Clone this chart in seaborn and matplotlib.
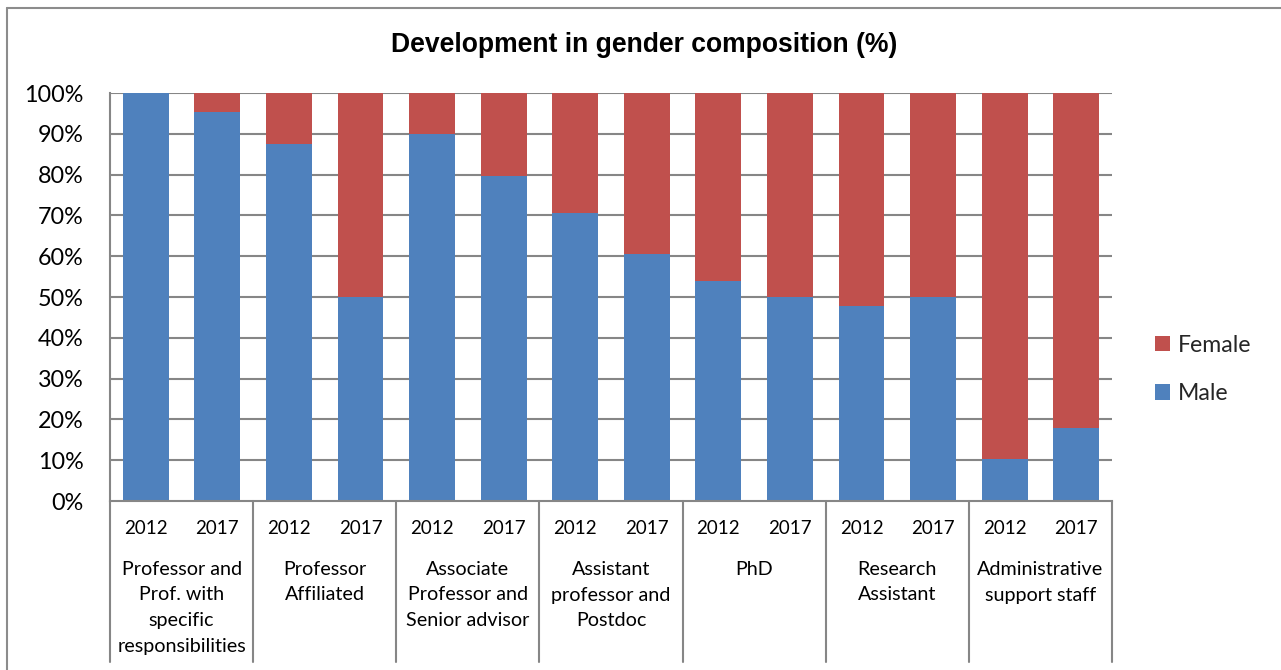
import matplotlib
matplotlib.use("Agg")
import matplotlib.pyplot as plt
from matplotlib.patches import Patch
from matplotlib.lines import Line2D
import seaborn as sns
import pandas as pd

# ---- data ----
groups = [
    ["Professor and", "Prof. with", "specific", "responsibilities"],
    ["Professor", "Affiliated"],
    ["Associate", "Professor and", "Senior advisor"],
    ["Assistant", "professor and", "Postdoc"],
    ["PhD"],
    ["Research", "Assistant"],
    ["Administrative", "support staff"],
]
years = ["2012", "2017"]
male = [100.0, 95.3, 87.6, 50.0, 90.0, 79.7, 70.7, 60.6, 53.8, 50.0, 47.9, 50.0, 10.3, 17.8]
yticks = [0, 10, 20, 30, 40, 50, 60, 70, 80, 90, 100]
title = "Development in gender composition (%)"

BLUE = "#4F81BD"
RED = "#C0504D"
GRID = "#868686"

slots = [f"{gi}-{y}" for gi in range(len(groups)) for y in years]
df = pd.DataFrame({
    "slot": slots,
    "year": [y for _ in groups for y in years],
    "Male": male,
})
df["Female"] = 100 - df["Male"]
df["Total"] = df["Male"] + df["Female"]

sns.set_theme(style="white")
plt.rcParams["font.family"] = ["Lato", "DejaVu Sans"]

W, H = 1281, 670
fig = plt.figure(figsize=(W / 100, H / 100), dpi=100)
ax = fig.add_axes([110 / W, (H - 501) / H, (1112 - 110) / W, (501 - 93) / H])

sns.barplot(data=df, x="slot", y="Total", order=slots, color=RED, width=0.64,
            saturation=1, linewidth=0, ax=ax, zorder=3)
sns.barplot(data=df, x="slot", y="Male", order=slots, color=BLUE, width=0.64,
            saturation=1, linewidth=0, ax=ax, zorder=3)

ax.set_xlim(-0.5, len(slots) - 0.5)
ax.set_ylim(0, 100)
ax.set_yticks(yticks)
ax.set_yticklabels([f"{t}%" for t in yticks], fontsize=16.8, color="black")
ax.set_xticks([])
ax.set_xlabel("")
ax.set_ylabel("")
ax.tick_params(axis="y", length=0, pad=19)

for t in yticks[1:]:
    ax.axhline(t, color=GRID, lw=1.5, zorder=1)

for s in ["top", "right"]:
    ax.spines[s].set_visible(False)
for s in ["left", "bottom"]:
    ax.spines[s].set_color(GRID)
    ax.spines[s].set_linewidth(1.5)
    ax.spines[s].set_zorder(4)

# separators below the axis
sep_bottom = -(661.7 - 501) / 408
trans = ax.get_xaxis_transform()
for k in range(len(groups) + 1):
    x = -0.5 + 2 * k
    ax.add_line(Line2D([x, x], [0, sep_bottom], transform=trans, color=GRID,
                       lw=1.5, clip_on=False))

px2pt = 0.72
for i, row in df.iterrows():
    ax.annotate(row["year"], xy=(i, 0), xycoords=trans,
                xytext=(0, -27 * px2pt), textcoords="offset points",
                ha="center", va="center", fontsize=13.5, color="black")

line_y = [569.3, 595.0, 620.7, 646.7]
for gi, lines in enumerate(groups):
    xc = 2 * gi + 0.5
    for li, txt in enumerate(lines):
        ax.annotate(txt, xy=(xc, 0), xycoords=trans,
                    xytext=(0, -(line_y[li] - 501) * px2pt), textcoords="offset points",
                    ha="center", va="center", fontsize=14.2, color="black")

# title
fig.text(644 / W, 1 - 45 / H, title, ha="center", va="center", fontsize=19.1,
         fontweight="bold", family=["Liberation Sans", "DejaVu Sans"], color="black")

# legend
handles = [Patch(facecolor=RED, edgecolor="none", label="Female"),
           Patch(facecolor=BLUE, edgecolor="none", label="Male")]
fig.legend(handles=handles, loc="center left", bbox_to_anchor=(1155 / W, 1 - 369.3 / H),
           frameon=False, fontsize=16.6, handlelength=0.66, handleheight=0.66,
           handletextpad=0.32, labelspacing=1.18, borderpad=0, borderaxespad=0)

# chart area border (top and left visible)
fig.add_artist(Line2D([7 / W, 1.0], [1 - 8 / H, 1 - 8 / H], transform=fig.transFigure,
                      color="#8c8c8c", lw=1.5))
fig.add_artist(Line2D([7 / W, 7 / W], [0, 1 - 8 / H], transform=fig.transFigure,
                      color="#8c8c8c", lw=1.5))

fig.savefig("out.png", dpi=100, facecolor="white")
